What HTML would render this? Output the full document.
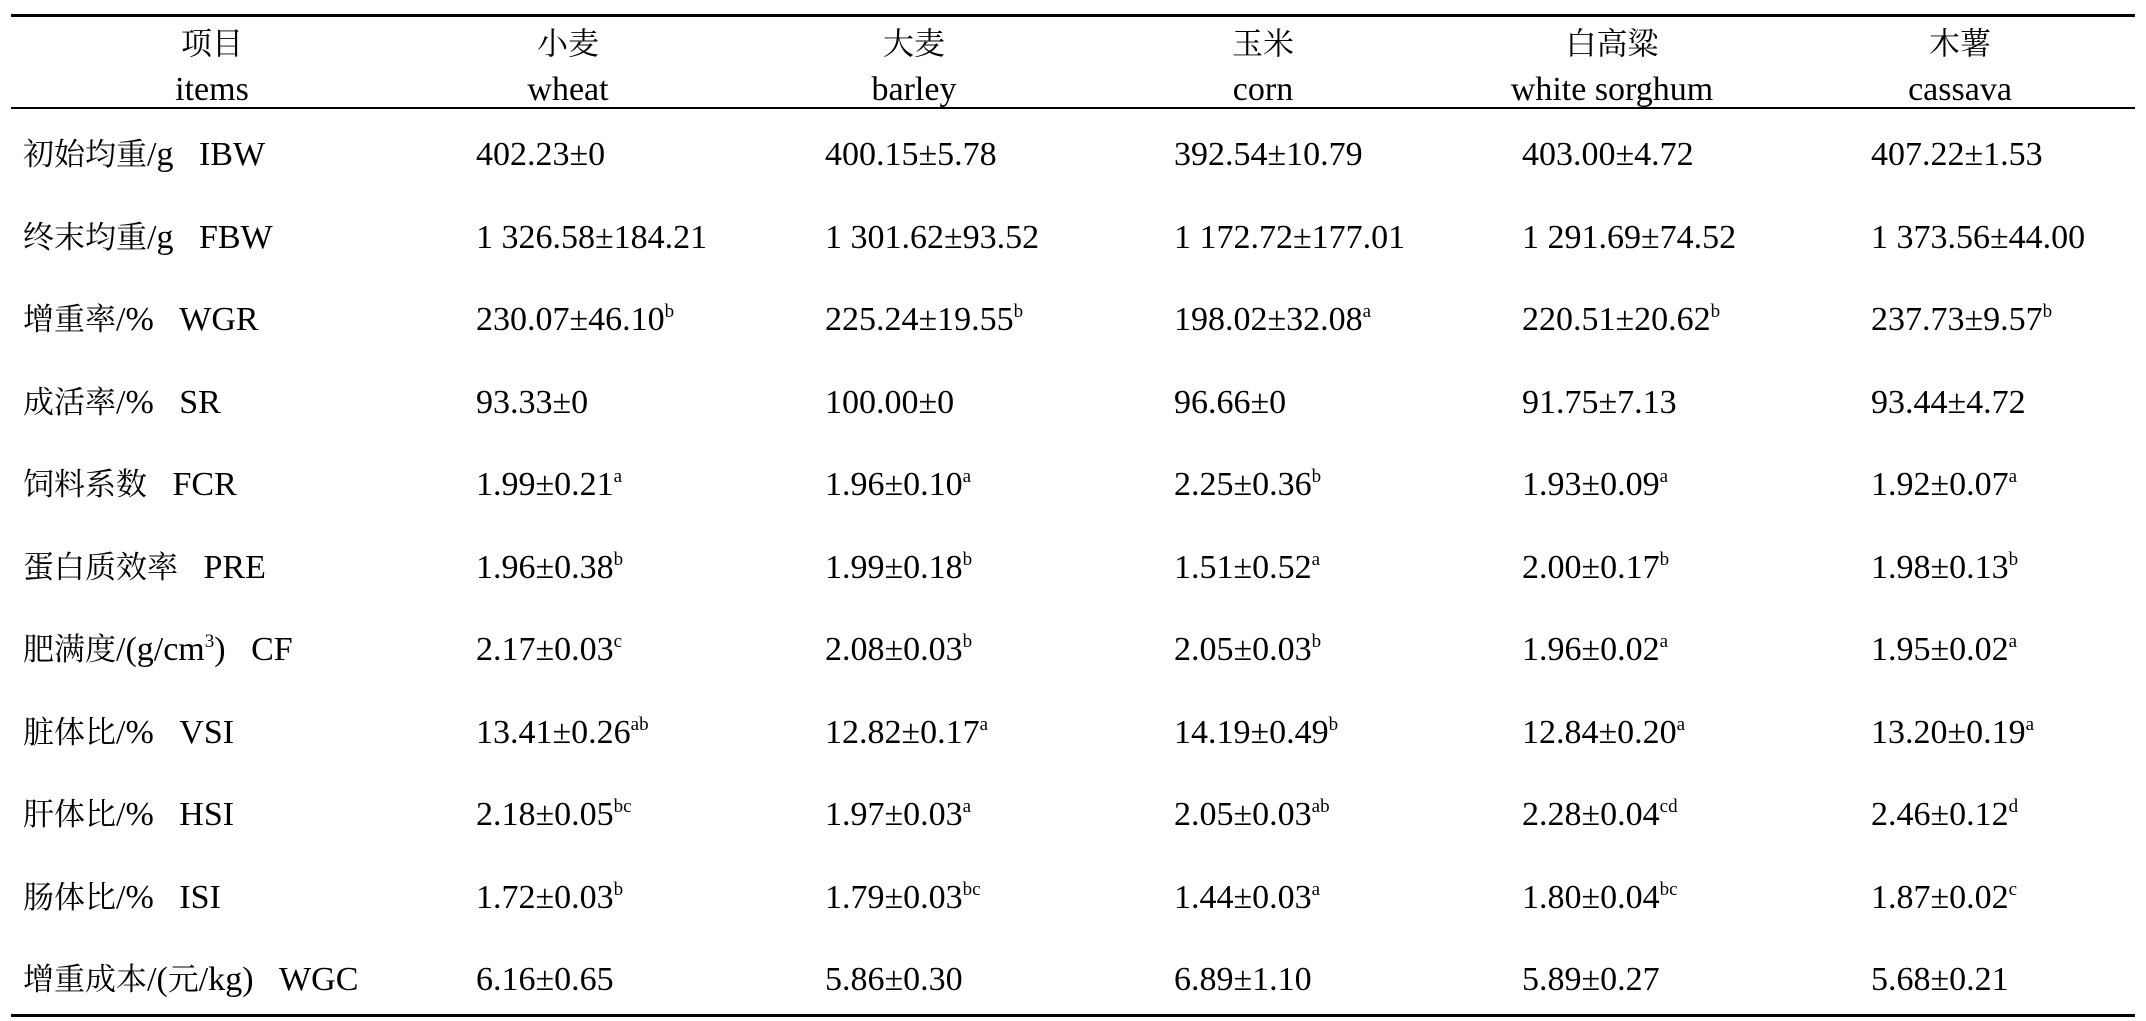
<!DOCTYPE html>
<html><head><meta charset="utf-8"><style>
body{margin:0;width:2146px;height:1021px;background:#fff;position:relative;overflow:hidden;font-family:"Liberation Serif","Noto Serif CJK SC",serif;font-size:34px;color:#000}
.l{position:absolute;left:11px;width:2124px;background:#000}
.t{position:absolute;white-space:nowrap;line-height:1;transform:translateY(-50%)}
.h{position:absolute;white-space:nowrap;line-height:1;transform:translate(-50%,-50%)}
.c{font-size:31px}
sup{font-size:19px;vertical-align:13px;line-height:0}
</style></head><body>
<div class="l" style="top:14px;height:3px"></div>
<div class="l" style="top:107px;height:2px"></div>
<div class="l" style="top:1014px;height:3px"></div>
<div class="h c" style="left:212px;top:44px">项目</div><div class="h" style="left:212px;top:90px">items</div>
<div class="h c" style="left:568px;top:44px">小麦</div><div class="h" style="left:568px;top:90px">wheat</div>
<div class="h c" style="left:914px;top:44px">大麦</div><div class="h" style="left:914px;top:90px">barley</div>
<div class="h c" style="left:1263px;top:44px">玉米</div><div class="h" style="left:1263px;top:90px">corn</div>
<div class="h c" style="left:1612px;top:44px">白高粱</div><div class="h" style="left:1612px;top:90px">white sorghum</div>
<div class="h c" style="left:1960px;top:44px">木薯</div><div class="h" style="left:1960px;top:90px">cassava</div>
<div id="rows"></div>
<script>
var S="&nbsp;&nbsp; ";
var R=[["<span class=c>初始均重</span>/g"+S+"IBW","402.23±0","400.15±5.78","392.54±10.79","403.00±4.72","407.22±1.53"],
["<span class=c>终末均重</span>/g"+S+"FBW","1 326.58±184.21","1 301.62±93.52","1 172.72±177.01","1 291.69±74.52","1 373.56±44.00"],
["<span class=c>增重率</span>/%"+S+"WGR","230.07±46.10<sup>b</sup>","225.24±19.55<sup>b</sup>","198.02±32.08<sup>a</sup>","220.51±20.62<sup>b</sup>","237.73±9.57<sup>b</sup>"],
["<span class=c>成活率</span>/%"+S+"SR","93.33±0","100.00±0","96.66±0","91.75±7.13","93.44±4.72"],
["<span class=c>饲料系数</span>"+S+"FCR","1.99±0.21<sup>a</sup>","1.96±0.10<sup>a</sup>","2.25±0.36<sup>b</sup>","1.93±0.09<sup>a</sup>","1.92±0.07<sup>a</sup>"],
["<span class=c>蛋白质效率</span>"+S+"PRE","1.96±0.38<sup>b</sup>","1.99±0.18<sup>b</sup>","1.51±0.52<sup>a</sup>","2.00±0.17<sup>b</sup>","1.98±0.13<sup>b</sup>"],
["<span class=c>肥满度</span>/(g/cm<sup>3</sup>)"+S+"CF","2.17±0.03<sup>c</sup>","2.08±0.03<sup>b</sup>","2.05±0.03<sup>b</sup>","1.96±0.02<sup>a</sup>","1.95±0.02<sup>a</sup>"],
["<span class=c>脏体比</span>/%"+S+"VSI","13.41±0.26<sup>ab</sup>","12.82±0.17<sup>a</sup>","14.19±0.49<sup>b</sup>","12.84±0.20<sup>a</sup>","13.20±0.19<sup>a</sup>"],
["<span class=c>肝体比</span>/%"+S+"HSI","2.18±0.05<sup>bc</sup>","1.97±0.03<sup>a</sup>","2.05±0.03<sup>ab</sup>","2.28±0.04<sup>cd</sup>","2.46±0.12<sup>d</sup>"],
["<span class=c>肠体比</span>/%"+S+"ISI","1.72±0.03<sup>b</sup>","1.79±0.03<sup>bc</sup>","1.44±0.03<sup>a</sup>","1.80±0.04<sup>bc</sup>","1.87±0.02<sup>c</sup>"],
["<span class=c>增重成本</span>/(<span class=c>元</span>/kg)"+S+"WGC","6.16±0.65","5.86±0.30","6.89±1.10","5.89±0.27","5.68±0.21"]];
var X=[23,476,825,1174,1522,1871],h="";
R.forEach(function(r,i){var y=155+i*82.5;r.forEach(function(c,j){h+='<div class="t" style="left:'+X[j]+'px;top:'+y+'px">'+c+'</div>';});});
document.getElementById("rows").innerHTML=h;
</script>
</body></html>
